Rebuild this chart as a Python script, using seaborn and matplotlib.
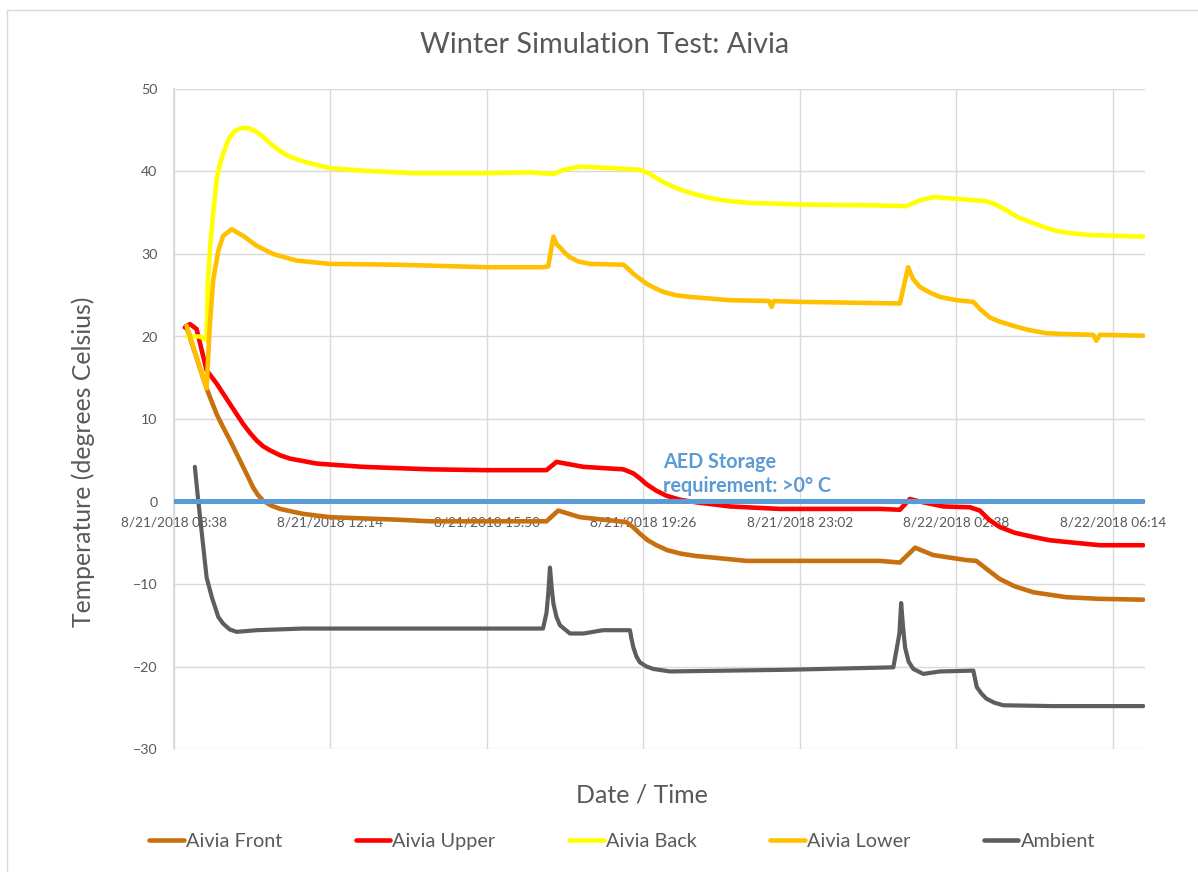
import matplotlib
matplotlib.use("Agg")
import matplotlib.pyplot as plt
import seaborn as sns
import pandas as pd
from matplotlib.lines import Line2D
from matplotlib.patches import Rectangle

# ---- data (hours since 8/21/2018 08:38, temperature in deg C) ----
back_t = [0.30, 0.60, 0.75, 0.78, 0.84, 0.90, 0.98, 1.05, 1.13, 1.21, 1.29, 1.40, 1.52, 1.63, 1.75,
          1.90, 2.05, 2.24, 2.44, 2.62, 2.82, 3.05, 3.28, 3.59,
          4.35, 5.50, 7.19, 8.19, 8.73, 8.96, 9.34, 10.11, 10.72, 10.95, 11.26, 11.64, 12.02, 12.40,
          12.79, 13.25, 14.40, 16.09, 16.85, 17.16, 17.47, 18.00, 18.69, 18.90, 19.15, 19.40, 19.69,
          20.00, 20.30, 20.65, 21.07, 22.30]
back_v = [20.0, 20.0, 19.6, 26.8, 31.5, 34.9, 38.9, 40.8, 42.1, 43.3, 44.2, 44.9, 45.2, 45.3, 45.2,
          44.8, 44.2, 43.3, 42.5, 41.9, 41.5, 41.1, 40.8, 40.4,
          40.1, 39.8, 39.8, 39.9, 39.7, 40.2, 40.6, 40.4, 40.2, 39.7, 38.7, 37.8, 37.2, 36.7,
          36.4, 36.2, 36.0, 35.9, 35.8, 36.5, 36.9, 36.7, 36.4, 36.0, 35.3, 34.5, 33.9,
          33.3, 32.8, 32.5, 32.3, 32.1]

lower_t = [0.29, 0.75, 0.82, 0.90, 1.02, 1.13, 1.33, 1.59, 1.90, 2.28, 2.82, 3.59, 5.12, 7.19, 8.49, 8.61,
           8.73, 8.80, 8.88, 9.00, 9.11, 9.30, 9.57, 10.34, 10.45, 10.57, 10.87, 11.05, 11.26, 11.55,
           11.87, 12.79, 13.69, 13.75, 13.80,
           14.40, 16.70, 16.89, 17.00, 17.16, 17.40, 17.62, 18.00, 18.39, 18.55, 18.77, 19.00, 19.31,
           19.65, 20.07, 20.50, 21.15, 21.22, 21.30, 22.30]
lower_v = [21.3, 13.7, 21.0, 26.8, 30.4, 32.2, 33.0, 32.2, 31.0, 30.0, 29.2, 28.8, 28.7, 28.4, 28.4, 28.5,
           32.1, 31.2, 30.8, 30.1, 29.6, 29.1, 28.8, 28.7, 28.2, 27.6, 26.4, 25.9, 25.4, 25.0,
           24.8, 24.4, 24.3, 23.6, 24.3,
           24.2, 24.0, 28.4, 27.0, 26.0, 25.3, 24.8, 24.4, 24.2, 23.3, 22.3, 21.8, 21.3,
           20.8, 20.4, 20.3, 20.2, 19.5, 20.2, 20.1]

upper_t = [0.25, 0.37, 0.52, 0.75, 0.98, 1.29, 1.59, 1.75, 1.90, 2.05, 2.21, 2.44, 2.67, 2.97, 3.28, 3.80,
           4.35, 5.89, 7.12, 8.57, 8.80, 9.42, 10.34, 10.57, 10.72, 10.87, 11.10, 11.33, 11.65, 12.02,
           12.79, 13.94, 16.24, 16.70, 16.93, 17.24, 17.70, 18.31, 18.54, 18.75, 19.00, 19.35, 19.77,
           20.15, 20.53, 21.30, 22.30]
upper_v = [21.1, 21.5, 20.9, 15.9, 14.3, 11.8, 9.4, 8.3, 7.4, 6.7, 6.2, 5.6, 5.2, 4.9, 4.6, 4.4,
           4.2, 3.9, 3.8, 3.8, 4.8, 4.2, 3.9, 3.4, 2.8, 2.1, 1.3, 0.7, 0.2, -0.1,
           -0.6, -0.9, -0.9, -1.0, 0.3, -0.1, -0.6, -0.7, -1.1, -2.2, -3.1, -3.8, -4.3,
           -4.7, -4.9, -5.3, -5.3]

front_t = [0.28, 0.75, 0.98, 1.13, 1.29, 1.44, 1.59, 1.72, 1.82, 1.93, 2.05, 2.24, 2.44, 2.70, 2.97,
           3.59, 5.12, 5.89, 8.57, 8.84, 9.34, 10.41, 10.56, 10.72, 10.90, 11.10, 11.35, 11.64, 12.00,
           12.41, 13.17, 16.24, 16.70, 17.05, 17.47, 18.23, 18.46, 18.75, 19.00, 19.35, 19.77, 20.15,
           20.53, 21.30, 22.30]
front_v = [21.3, 13.7, 10.6, 9.0, 7.4, 5.8, 4.2, 2.8, 1.7, 0.8, 0.1, -0.5, -0.9, -1.2, -1.5,
           -1.9, -2.2, -2.4, -2.4, -1.1, -1.9, -2.5, -3.1, -3.9, -4.7, -5.3, -5.9, -6.3, -6.6,
           -6.8, -7.2, -7.2, -7.4, -5.6, -6.5, -7.1, -7.2, -8.4, -9.4, -10.3, -11.0, -11.3,
           -11.6, -11.8, -11.9]

amb_t = [0.48, 0.54, 0.60, 0.68, 0.75, 0.87, 1.02, 1.13, 1.28, 1.44, 1.90, 2.97, 8.49, 8.57, 8.61, 8.65,
         8.69, 8.73, 8.80, 8.88, 9.11, 9.42, 9.87, 10.49, 10.52, 10.57, 10.64, 10.72, 10.87, 11.03,
         11.41, 14.09, 16.55, 16.69, 16.73, 16.77, 16.82, 16.90, 17.01, 17.24,
         17.62, 18.39, 18.43, 18.47, 18.58, 18.69, 18.88, 19.08, 20.23, 22.30]
amb_v = [4.2, 1.0, -1.9, -5.8, -9.2, -11.6, -14.0, -14.8, -15.5, -15.8, -15.6, -15.4, -15.4, -13.5, -11.2, -8.0,
         -10.5, -12.4, -14.0, -15.0, -16.0, -16.0, -15.6, -15.6, -16.5, -17.7, -18.8, -19.5, -20.0, -20.3,
         -20.6, -20.4, -20.1, -16.0, -12.3, -15.0, -17.7, -19.4, -20.3, -20.9,
         -20.6, -20.5, -21.5, -22.5, -23.3, -23.9, -24.4, -24.7, -24.8, -24.8]

req_t = [0.0, 22.30]
req_v = [0.0, 0.0]

series_names = ["Aivia Front", "Aivia Upper", "Aivia Back", "Aivia Lower", "Ambient"]
tick_hours = [0, 3.6, 7.2, 10.8, 14.4, 18.0, 21.6]
tick_labels = ["8/21/2018 08:38", "8/21/2018 12:14", "8/21/2018 15:50", "8/21/2018 19:26",
               "8/21/2018 23:02", "8/22/2018 02:38", "8/22/2018 06:14"]
y_ticks = [-30, -20, -10, 0, 10, 20, 30, 40, 50]

# ---- styling ----
colors = {"Aivia Front": "#C8700F", "Aivia Upper": "#FF0000", "Aivia Back": "#FFFF00",
          "Aivia Lower": "#FFC000", "Ambient": "#5E5E5E"}
widths = {"Aivia Front": 3.3, "Aivia Upper": 3.3, "Aivia Back": 3.3, "Aivia Lower": 3.3, "Ambient": 3.0}
txt = "#595959"
grid_c = "#D9D9D9"
blue = "#5B9BD5"

sns.set_theme(style="white")
plt.rcParams['font.family'] = ['Lato', 'DejaVu Sans']

fig = plt.figure(figsize=(11.98, 8.72), dpi=100)
ax = fig.add_axes([174/1198, 1-749/872, (1145-174)/1198, (749-89)/872])

data = {"Aivia Front": (front_t, front_v), "Aivia Upper": (upper_t, upper_v),
        "Aivia Back": (back_t, back_v), "Aivia Lower": (lower_t, lower_v),
        "Ambient": (amb_t, amb_v)}

ax.set_xlim(0, 22.34)
ax.set_ylim(-30, 50)
ax.set_yticks(y_ticks)
ax.set_xticks(tick_hours)
ax.set_xticklabels(tick_labels)
ax.grid(True, color=grid_c, lw=1.0)
ax.set_axisbelow(True)

for name in series_names:
    t, v = data[name]
    df = pd.DataFrame({"t": t, "v": v})
    sns.lineplot(data=df, x="t", y="v", ax=ax, color=colors[name], lw=widths[name],
                 sort=False, estimator=None, solid_capstyle="round", solid_joinstyle="round",
                 zorder=3)

df_req = pd.DataFrame({"t": req_t, "v": req_v})
sns.lineplot(data=df_req, x="t", y="v", ax=ax, color=blue, lw=3.6, sort=False,
             estimator=None, zorder=4)

ax.set_xlabel("")
ax.set_ylabel("")
for s in ["top", "right"]:
    ax.spines[s].set_visible(False)
ax.spines["left"].set_color(grid_c)
ax.spines["bottom"].set_color(grid_c)
ax.spines["bottom"].set_position(("data", 0))
ax.tick_params(axis="x", length=0, pad=11, labelsize=9.8, labelcolor=txt)
ax.tick_params(axis="y", length=0, pad=12, labelsize=10.2, labelcolor=txt)

ax.text(11.25, 3.3, "AED Storage\nrequirement: >0\u00b0 C", color=blue, fontsize=14.2,
        fontweight="bold", ha="left", va="center", linespacing=1.25, zorder=5)

fig.text(0.505, 1-45/872, "Winter Simulation Test: Aivia", ha="center", va="center",
         fontsize=20.8, color=txt)
fig.text(83/1198, 1-462/872, "Temperature (degrees Celsius)", ha="center", va="center",
         rotation=90, fontsize=17.8, color=txt)
fig.text(642/1198, 1-795/872, "Date / Time", ha="center", va="center", fontsize=18, color=txt)

handles = [Line2D([0], [0], color=colors[n], lw=3.3) for n in series_names]
fig.legend(handles, series_names, loc="center", bbox_to_anchor=(622/1198, 1-841/872), ncol=5,
           frameon=False, fontsize=14.3, handlelength=1.75, handletextpad=0.1,
           columnspacing=3.7, labelcolor=txt)

fig.patches.append(Rectangle((7/1198, -0.01), 1.02, 1-10/872+0.01, transform=fig.transFigure,
                             fill=False, edgecolor=grid_c, lw=1.0))

fig.savefig("out.png", dpi=100)
